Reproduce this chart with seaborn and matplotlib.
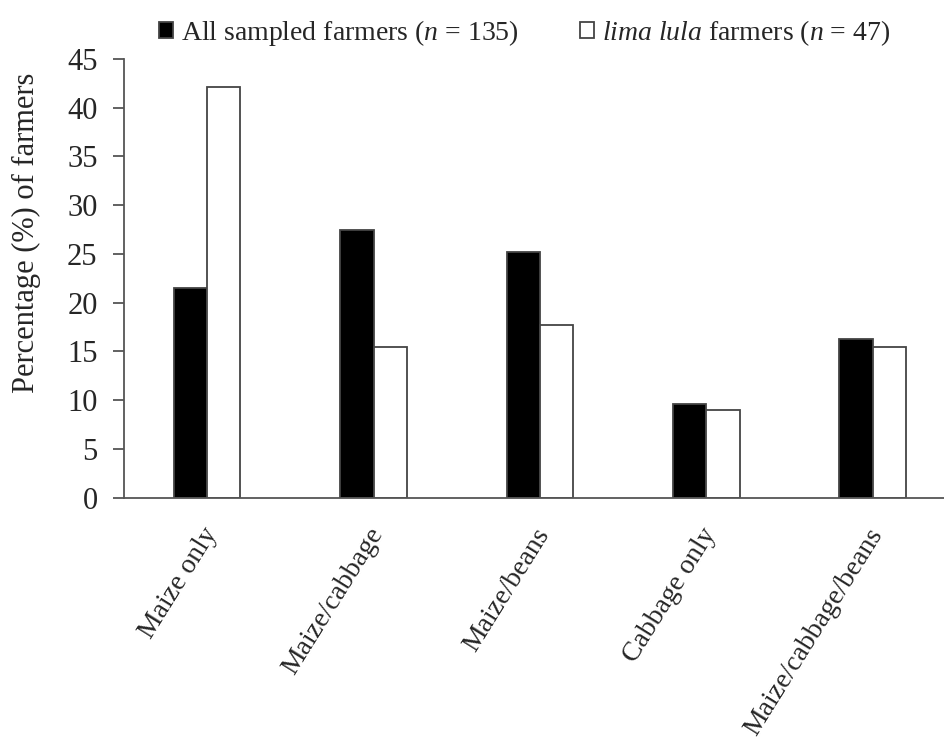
import matplotlib
matplotlib.use("Agg")
import matplotlib.pyplot as plt
import matplotlib.transforms as mtransforms
import seaborn as sns
import pandas as pd

# Data setup
systems = ["Maize only", "Maize/cabbage", "Maize/beans", "Cabbage only", "Maize/cabbage/beans"]
all_farmers = [21.5, 27.5, 25.2, 9.6, 16.3]
lima_lula = [42.1, 15.4, 17.7, 9.0, 15.4]

groups = ["All", "Lima"]
legend_labels = [r"All sampled farmers ($\it{n}$ = 135)",
                 r"$\it{lima\ lula}$ farmers ($\it{n}$ = 47)"]

df = pd.DataFrame({
    "system": systems * 2,
    "group": ["All"] * len(systems) + ["Lima"] * len(systems),
    "pct": all_farmers + lima_lula,
})

sns.set_style("white")
plt.rcParams["font.family"] = ["Liberation Serif", "DejaVu Serif"]
plt.rcParams["mathtext.fontset"] = "custom"
plt.rcParams["mathtext.rm"] = "Liberation Serif"
plt.rcParams["mathtext.it"] = "Liberation Serif:italic"

fig = plt.figure(figsize=(9.45, 7.45), dpi=100)
ax = fig.add_axes([0.1312, 0.332, 0.8688, 0.589])

sns.barplot(data=df, x="system", y="pct", hue="group", hue_order=groups,
            palette={"All": "black", "Lima": "white"}, width=0.4,
            edgecolor="#444444", linewidth=1.3, saturation=1, ax=ax)

ax.set_ylim(0, 45)
ax.set_yticks(range(0, 46, 5))
ax.set_xlim(-0.5, 4.435)
ax.set_xlabel("")
ax.set_ylabel("Percentage (%) of farmers", fontsize=22)
ax.yaxis.set_label_coords(-0.101, 0.603)

for side in ["top", "right"]:
    ax.spines[side].set_visible(False)
for side in ["left", "bottom"]:
    ax.spines[side].set_color("#555555")
    ax.spines[side].set_linewidth(1.3)

ax.tick_params(axis="y", direction="out", length=8, width=1.3, color="#555555",
               labelsize=22, pad=11, left=True)
ax.tick_params(axis="x", length=0, labelsize=20, pad=10)
shift = mtransforms.ScaledTranslation(-0.06, -0.12, fig.dpi_scale_trans)
for lab in ax.get_xticklabels():
    lab.set_rotation(58)
    lab.set_ha("right")
    lab.set_rotation_mode("anchor")
    lab.set_transform(lab.get_transform() + shift)

handles, _ = ax.get_legend_handles_labels()
ax.legend(handles, legend_labels, loc="lower center", bbox_to_anchor=(0.488, 1.0),
          ncol=2, frameon=False, fontsize=20, handlelength=0.5, handleheight=0.5,
          handletextpad=0.3, columnspacing=2.2, borderaxespad=0.0)

plt.savefig("out.png", dpi=100)
